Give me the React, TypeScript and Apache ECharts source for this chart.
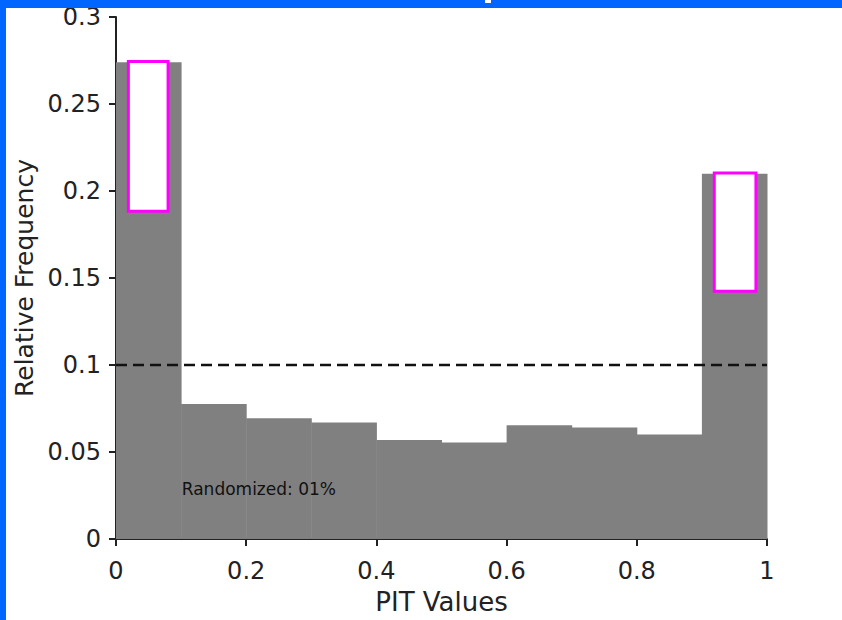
import React, { useEffect, useRef } from "react";
import * as echarts from "echarts";

// Histogram bins (PIT value ranges) and relative frequencies
const binStarts = [0, 0.1, 0.2, 0.3, 0.4, 0.5, 0.6, 0.7, 0.8, 0.9];
const binEnds = [0.1, 0.2, 0.3, 0.4, 0.5, 0.6, 0.7, 0.8, 0.9, 1.0];
const frequencies = [0.274, 0.0776, 0.0694, 0.0669, 0.0569, 0.0555, 0.0654, 0.0641, 0.0601, 0.2099];

// Magenta interval boxes: [xStart, xEnd, low, high]
const boxXStart = [0.019, 0.919];
const boxXEnd = [0.08, 0.983];
const boxLow = [0.1884, 0.1424];
const boxHigh = [0.2744, 0.2103];

const referenceLevel = 0.1;
const annotationText = "Randomized: 01%";
const annotationPos = [0.101, 0.029];

const yTicks = { min: 0, max: 0.3, interval: 0.05 };
const xTicks = { min: 0, max: 1, interval: 0.2 };

const FONT = "DejaVu Sans";
const TXT = "#222222";

export default function App() {
  const ref = useRef<HTMLDivElement>(null);

  useEffect(() => {
    if (!ref.current) return;
    const chart = echarts.init(ref.current, null, { renderer: "svg" });

    const barData = binStarts.map((s, i) => [s, binEnds[i], frequencies[i]]);
    const boxData = boxXStart.map((s, i) => [s, boxXEnd[i], boxLow[i], boxHigh[i]]);

    const option: any = {
      animation: false,
      backgroundColor: "#ffffff",
      textStyle: { fontFamily: FONT },
      grid: { left: 116, right: 75, top: 17, bottom: 77, containLabel: false },
      xAxis: {
        type: "value",
        min: xTicks.min,
        max: xTicks.max,
        interval: xTicks.interval,
        name: "PIT Values",
        nameLocation: "middle",
        nameGap: 50,
        nameTextStyle: { fontSize: 26, color: TXT, fontFamily: FONT },
        axisLine: { show: true, lineStyle: { color: "#222", width: 2 } },
        axisTick: { show: true, inside: false, length: 7, lineStyle: { color: "#222", width: 2 } },
        axisLabel: { fontSize: 24, color: TXT, margin: 20, fontFamily: FONT },
        splitLine: { show: false },
      },
      yAxis: {
        type: "value",
        min: yTicks.min,
        max: yTicks.max,
        interval: yTicks.interval,
        name: "Relative Frequency",
        nameLocation: "middle",
        nameGap: 70,
        nameTextStyle: { fontSize: 25, color: TXT, fontFamily: FONT },
        axisLine: { show: true, lineStyle: { color: "#222", width: 2 } },
        axisTick: { show: true, inside: false, length: 7, lineStyle: { color: "#222", width: 2 } },
        axisLabel: { fontSize: 24, color: TXT, margin: 15, fontFamily: FONT },
        splitLine: { show: false },
      },
      series: [
        {
          type: "custom",
          name: "hist",
          data: barData,
          encode: { x: [0, 1], y: 2 },
          z: 1,
          renderItem: (params: any, api: any) => {
            const p0 = api.coord([api.value(0), api.value(2)]);
            const p1 = api.coord([api.value(1), 0]);
            return {
              type: "rect",
              shape: { x: p0[0], y: p0[1], width: p1[0] - p0[0] + 0.5, height: p1[1] - p0[1] },
              style: { fill: "#808080" },
            };
          },
        },
        {
          type: "custom",
          name: "boxes",
          data: boxData,
          encode: { x: [0, 1], y: [2, 3] },
          z: 3,
          renderItem: (params: any, api: any) => {
            const p0 = api.coord([api.value(0), api.value(3)]);
            const p1 = api.coord([api.value(1), api.value(2)]);
            return {
              type: "rect",
              shape: { x: p0[0], y: p0[1], width: p1[0] - p0[0], height: p1[1] - p0[1] },
              style: { fill: "#ffffff", stroke: "#ff00ff", lineWidth: 3 },
            };
          },
        },
        {
          type: "line",
          name: "ref",
          data: [
            [xTicks.min, referenceLevel],
            [xTicks.max, referenceLevel],
          ],
          symbol: "none",
          z: 4,
          lineStyle: { color: "#111111", width: 2.5, type: [11, 6] },
        },
        {
          type: "custom",
          name: "annotation",
          data: [annotationPos],
          z: 5,
          renderItem: (params: any, api: any) => {
            const p = api.coord([api.value(0), api.value(1)]);
            return {
              type: "text",
              x: p[0],
              y: p[1],
              style: {
                text: annotationText,
                fill: "#111111",
                fontSize: 17,
                fontFamily: FONT,
                align: "left",
                verticalAlign: "middle",
              },
            };
          },
        },
      ],
      graphic: [
        { type: "rect", left: 0, top: 0, shape: { width: 842, height: 8 }, style: { fill: "#0066ff" }, z: 100 },
        { type: "rect", left: 0, top: 0, shape: { width: 6, height: 620 }, style: { fill: "#0066ff" }, z: 100 },
        { type: "rect", left: 485, top: 0, shape: { width: 6, height: 3 }, style: { fill: "#ffffff" }, z: 101 },
      ],
    };

    chart.setOption(option);
    return () => chart.dispose();
  }, []);

  return (
    <div
      ref={ref}
      style={{ position: "fixed", left: 0, top: 0, width: 842, height: 620 }}
    />
  );
}
